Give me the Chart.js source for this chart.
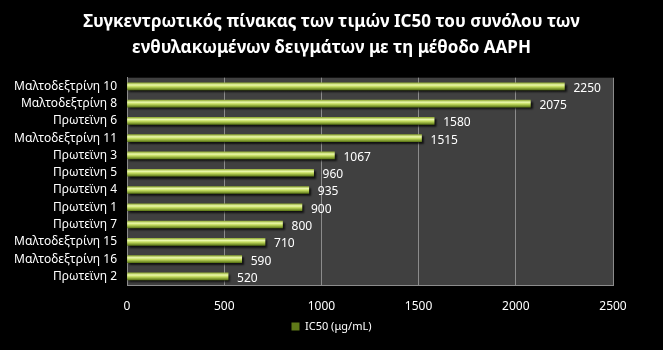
<!DOCTYPE html>
<html>
<head>
<meta charset="utf-8">
<script src="https://cdn.jsdelivr.net/npm/chart.js@4.4.1/dist/chart.umd.min.js"></script>
<style>
  html, body { margin: 0; padding: 0; background: #000; }
  #wrap { width: 663px; height: 350px; }
</style>
</head>
<body>
<div id="wrap"><canvas id="chartIC50"></canvas></div>
<script>
// Δείγματα και τιμές IC50 (μg/mL)
const deigmata = [
    'Μαλτοδεξτρίνη 10', 'Μαλτοδεξτρίνη 8', 'Πρωτεϊνη 6', 'Μαλτοδεξτρίνη 11',
    'Πρωτεϊνη 3', 'Πρωτεϊνη 5', 'Πρωτεϊνη 4', 'Πρωτεϊνη 1',
    'Πρωτεϊνη 7', 'Μαλτοδεξτρίνη 15', 'Μαλτοδεξτρίνη 16', 'Πρωτεϊνη 2'
];
const timesIC50 = [2250, 2075, 1580, 1515, 1067, 960, 935, 900, 800, 710, 590, 520];
const xTicks = [0, 500, 1000, 1500, 2000, 2500];

const BAR_H = 7;
const fontFam = "'Noto Sans', 'Open Sans', sans-serif";

// Κυλινδρικό εφέ στις μπάρες (διαβάθμιση κάθετα σε κάθε μπάρα)
function barFill(ctx) {
    const chart = ctx.chart;
    if (ctx.type !== 'data' || !chart.chartArea) return '#a6c33c';
    const y = chart.scales.y.getPixelForValue(ctx.dataIndex);
    const g = chart.ctx.createLinearGradient(0, y - BAR_H / 2, 0, y + BAR_H / 2);
    g.addColorStop(0, '#95ae3a');
    g.addColorStop(0.3, '#ecf9ad');
    g.addColorStop(0.55, '#c4dc60');
    g.addColorStop(1, '#5f7a18');
    return g;
}

// Γκρι φόντο στην περιοχή του γραφήματος
const plotBg = {
    id: 'plotBg',
    beforeDraw(chart) {
        const { ctx, chartArea: a } = chart;
        ctx.save();
        ctx.fillStyle = '#404040';
        ctx.fillRect(a.left, a.top, a.right - a.left, a.bottom - a.top);
        ctx.restore();
    }
};

// Σκιά κάτω από τις μπάρες
const barShadow = {
    id: 'barShadow',
    beforeDatasetDraw(chart) {
        const ctx = chart.ctx;
        ctx.save();
        ctx.shadowColor = 'rgba(0,0,0,0.75)';
        ctx.shadowOffsetX = 2;
        ctx.shadowOffsetY = 2;
        ctx.shadowBlur = 2;
    },
    afterDatasetDraw(chart) {
        chart.ctx.restore();
    }
};

// Ετικέτες τιμών δεξιά από κάθε μπάρα
const valueLabels = {
    id: 'valueLabels',
    afterDatasetsDraw(chart) {
        const ctx = chart.ctx;
        const meta = chart.getDatasetMeta(0);
        ctx.save();
        ctx.fillStyle = '#ffffff';
        ctx.font = '12px ' + fontFam;
        ctx.textAlign = 'left';
        ctx.textBaseline = 'middle';
        meta.data.forEach((bar, i) => {
            ctx.fillText(timesIC50[i], bar.x + 9, bar.y + 2);
        });
        ctx.restore();
    }
};

new Chart(document.getElementById('chartIC50'), {
    type: 'bar',
    data: {
        labels: deigmata,
        datasets: [{
            label: 'IC50 (μg/mL)',
            data: timesIC50,
            backgroundColor: barFill,
            borderWidth: 0,
            barThickness: BAR_H
        }]
    },
    options: {
        indexAxis: 'y',
        responsive: true,
        maintainAspectRatio: false,
        animation: false,
        layout: { padding: { top: 0, right: 0, bottom: 8, left: 0 } },
        scales: {
            x: {
                min: 0,
                max: 2500,
                afterBuildTicks: scale => { scale.ticks = xTicks.map(v => ({ value: v })); },
                grid: { color: '#8c8c8c', lineWidth: 1, drawTicks: false },
                border: { color: '#8c8c8c' },
                ticks: {
                    color: '#ffffff',
                    padding: 14,
                    font: { family: fontFam, size: 12 },
                    callback: v => String(v)
                },
                afterFit: scale => { scale.height = 30; }
            },
            y: {
                grid: { display: false, drawTicks: false },
                border: { color: '#8c8c8c' },
                ticks: {
                    color: '#ffffff',
                    padding: 10,
                    autoSkip: false,
                    font: { family: fontFam, size: 12 }
                },
                afterFit: scale => { scale.width = 127; }
            },
            // κενός χώρος δεξιά για τις ετικέτες τιμών
            yRight: {
                axis: 'y',
                type: 'linear',
                position: 'right',
                min: 0,
                max: 1,
                grid: { display: false, drawTicks: false },
                border: { display: false },
                ticks: { display: false },
                afterFit: scale => { scale.width = 50; }
            }
        },
        plugins: {
            title: {
                display: true,
                text: ['Συγκεντρωτικός πίνακας των τιμών IC50 του συνόλου των',
                       'ενθυλακωμένων δειγμάτων με τη μέθοδο AAPH'],
                color: '#ffffff',
                font: { family: fontFam, size: 17, weight: 'bold', lineHeight: 1.55 },
                padding: { top: 9, bottom: 16 }
            },
            legend: {
                position: 'bottom',
                labels: {
                    color: '#ffffff',
                    boxWidth: 8,
                    boxHeight: 8,
                    padding: 6,
                    font: { family: fontFam, size: 11 }
                }
            },
            tooltip: { enabled: false }
        }
    },
    plugins: [plotBg, barShadow, valueLabels]
});
</script>
</body>
</html>
